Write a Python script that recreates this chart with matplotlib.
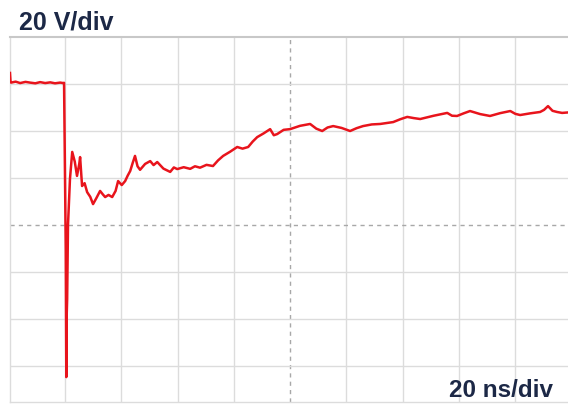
import matplotlib
matplotlib.use("Agg")
import matplotlib.pyplot as plt
import numpy as np

# Trace (time in ns, voltage in V)
time_ns = [-99.5, -99.3, -99.1, -97.5, -95.9, -94.0, -92.4, -90.5, -88.8, -87.0,
           -85.2, -83.5, -81.7, -80.6, -80.3, -79.7, -79.5, -79.4, -79.2, -78.9,
           -78.2, -77.4, -76.5, -75.7, -74.9, -74.6, -73.9, -73.0, -72.1, -71.0,
           -70.0, -68.8, -67.5, -66.5, -65.7, -64.5, -63.2, -62.0, -61.1, -59.8,
           -58.6, -57.7, -56.8, -55.9, -55.1, -54.2, -53.3, -51.5, -49.7, -48.5,
           -47.2, -45.0, -42.6, -41.3, -40.1, -37.8, -35.5, -33.8, -32.0, -29.7,
           -27.4, -25.6, -23.8, -21.3, -18.8, -16.9, -14.9, -13.3, -11.7, -9.4,
           -7.1, -5.8, -4.6, -2.3, 0.0, 3.5, 7.1, 9.3, 11.4, 13.3,
           15.3, 18.3, 21.3, 23.6, 25.9, 29.0, 32.0, 34.3, 36.6, 39.1,
           41.6, 43.9, 46.2, 51.0, 55.8, 57.5, 59.3, 61.6, 63.9, 67.5,
           71.0, 74.6, 78.2, 80.0, 81.7, 85.2, 88.8, 90.2, 91.6, 93.2,
           94.8, 96.6, 98.7]
volts = [64.7, 60.8, 60.6, 61.0, 60.4, 60.9, 60.6, 60.3, 60.8, 60.4,
         60.7, 60.3, 60.6, 60.4, 60.5, -10.2, -64.7, -40.0, -31.5, 0.0,
         19.6, 31.1, 27.0, 20.9, 26.0, 28.9, 16.6, 17.8, 14.0, 12.0,
         8.9, 11.5, 14.5, 13.0, 11.9, 12.8, 11.9, 14.5, 18.7, 17.0,
         18.7, 21.0, 23.0, 26.5, 29.4, 25.0, 23.5, 26.0, 27.2, 25.5,
         26.8, 24.0, 22.6, 24.5, 23.8, 24.6, 23.9, 25.0, 24.4, 25.6,
         25.1, 27.5, 29.4, 31.2, 33.2, 32.5, 33.2, 35.5, 37.4, 39.0,
         40.8, 38.2, 38.7, 40.5, 40.8, 42.2, 43.0, 41.0, 40.0, 41.5,
         42.1, 41.3, 40.0, 41.2, 42.1, 42.8, 43.0, 43.4, 43.8, 45.0,
         46.0, 45.5, 45.1, 46.5, 47.7, 46.5, 46.4, 47.5, 48.5, 47.2,
         46.4, 47.6, 48.5, 47.3, 46.8, 47.5, 48.1, 49.0, 50.6, 48.6,
         48.1, 47.7, 47.9]

v_label = "20 V/div"
t_label = "20 ns/div"
v_div = 20
t_div = 20

fig = plt.figure(figsize=(5.68, 4.10), dpi=100)
ax = fig.add_axes([10/568, 1 - 403/410, 558/568, 365/410])
ax.set_xlim(-99.5, 98.7)
ax.set_ylim(-75.3, 80)

grid_c = "#dcdcdc"
for t in np.arange(-80, 100, t_div):
    if t == 0:
        ax.axvline(t, color="#a8a8a8", lw=1.0, ls=(0, (3, 3)), zorder=1)
    else:
        ax.axvline(t, color=grid_c, lw=1.0, zorder=1)
for v in np.arange(-60, 80, v_div):
    if v == 0:
        ax.axhline(v, color="#a8a8a8", lw=1.0, ls=(0, (3, 3)), zorder=1)
    else:
        ax.axhline(v, color=grid_c, lw=1.0, zorder=1)

for s in ["left", "bottom"]:
    ax.spines[s].set_color(grid_c)
    ax.spines[s].set_linewidth(1.0)
ax.spines["top"].set_color("#c8c8c8")
ax.spines["top"].set_linewidth(1.5)
ax.spines["right"].set_visible(False)
ax.set_xticks([])
ax.set_yticks([])

ax.plot(time_ns, volts, color="#e8141c", lw=1.8, zorder=3, solid_joinstyle="round")

fig.text(19/568, 1 - 23/410, v_label, fontsize=18, fontweight="bold",
         color="#1c2846", family=["Liberation Sans", "DejaVu Sans"], va="center", ha="left")
fig.text(553/568, 1 - 391/410, t_label, fontsize=17.5, fontweight="bold",
         color="#1c2846", family=["Liberation Sans", "DejaVu Sans"], va="center", ha="right")

fig.savefig("out.png", dpi=100)
